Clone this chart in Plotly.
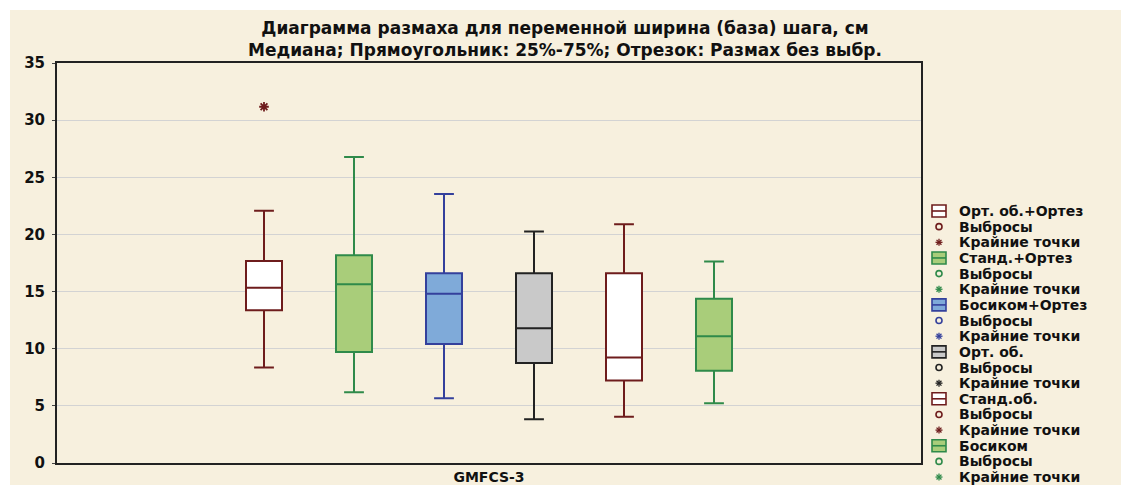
import plotly.graph_objects as go

# ---------------- data ----------------
series_names = ["Орт. об.+Ортез", "Станд.+Ортез", "Босиком+Ортез", "Орт. об.", "Станд.об.", "Босиком"]
lower_whisker = [8.36, 6.19, 5.66, 3.82, 4.05, 5.22]
q1_values = [13.37, 9.71, 10.41, 8.74, 7.21, 8.07]
median_values = [15.34, 15.63, 14.81, 11.79, 9.24, 11.08]
q3_values = [17.68, 18.18, 16.60, 16.60, 16.60, 14.37]
upper_whisker = [22.07, 26.77, 23.54, 20.26, 20.90, 17.63]
extreme_series = [0]          # index of series with the extreme point
extreme_values = [31.17]
category_label = "GMFCS-3"
y_ticks = [0, 5, 10, 15, 20, 25, 30, 35]
outlier_label = "Выбросы"
extreme_label = "Крайние точки"
title_lines = ["Диаграмма размаха для переменной ширина (база) шага, см",
               "Медиана; Прямоугольник: 25%-75%; Отрезок: Размах без выбр."]

# ---------------- styles ----------------
line_colors = ["#6e1c1c", "#2f8a4a", "#34409c", "#222222", "#6e1c1c", "#2f8a4a"]
fill_colors = ["#ffffff", "#a9cd7a", "#7faad9", "#c9c9c9", "#ffffff", "#a9cd7a"]
cream = "#f7f0de"
OFF = 8                      # page body margin in the browser
W, H = 1129 - OFF, 485 - OFF
FONT = "DejaVu Sans"

fig = go.Figure()
n = len(series_names)
positions = list(range(n))
for i in range(n):
    fig.add_trace(go.Box(
        x=[positions[i]], q1=[q1_values[i]], median=[median_values[i]], q3=[q3_values[i]],
        lowerfence=[lower_whisker[i]], upperfence=[upper_whisker[i]],
        width=0.4, whiskerwidth=0.55,
        line=dict(color=line_colors[i], width=2), fillcolor=fill_colors[i],
        name=series_names[i], showlegend=False, hoverinfo="y",
    ))

ext_col = line_colors[extreme_series[0]]
fig.add_trace(go.Scatter(
    x=[positions[s] for s in extreme_series], y=extreme_values, mode="markers",
    marker=dict(symbol="asterisk-open", size=8, color=ext_col,
                line=dict(color=ext_col, width=1.8)),
    showlegend=False, name=extreme_label,
))

def px(x):
    return (x - OFF) / W

def py(y):
    return 1 - (y - OFF) / H

shapes = []
annotations = []
# cream panel with thin white border top/left
shapes.append(dict(type="rect", xref="paper", yref="paper", x0=px(10), x1=1, y0=0, y1=py(10),
                   fillcolor=cream, line=dict(width=0), layer="below"))

# manual legend
ly0, lstep = 211.0, 15.65
icon_x, text_x = 939.0, 957.0
k = 0
for i in range(n):
    for kind in ("box", "out", "ext"):
        yc = ly0 + k * lstep
        col = line_colors[i]
        if kind == "box":
            shapes.append(dict(type="rect", xref="paper", yref="paper",
                               x0=px(icon_x - 7), x1=px(icon_x + 7), y0=py(yc + 6), y1=py(yc - 6),
                               fillcolor=fill_colors[i], line=dict(color=col, width=1.6)))
            shapes.append(dict(type="line", xref="paper", yref="paper",
                               x0=px(icon_x - 7), x1=px(icon_x + 7), y0=py(yc), y1=py(yc),
                               line=dict(color=col, width=1.6)))
            label = series_names[i]
        elif kind == "out":
            shapes.append(dict(type="circle", xref="paper", yref="paper",
                               x0=px(icon_x - 3), x1=px(icon_x + 3), y0=py(yc + 3), y1=py(yc - 3),
                               line=dict(color=col, width=1.6)))
            label = outlier_label
        else:
            r = 3.5
            for dx, dy in ((1, 0), (0, 1), (0.7, 0.7), (0.7, -0.7)):
                shapes.append(dict(type="line", xref="paper", yref="paper",
                                   x0=px(icon_x - r * dx), x1=px(icon_x + r * dx),
                                   y0=py(yc - r * dy), y1=py(yc + r * dy),
                                   line=dict(color=col, width=1.3)))
            label = extreme_label
        annotations.append(dict(text=label, xref="paper", yref="paper", x=px(text_x), y=py(yc),
                                xanchor="left", yanchor="middle", showarrow=False,
                                font=dict(family=FONT, size=14, color="#111111", weight="bold")))
        k += 1

fig.update_layout(
    width=W, height=H,
    margin=dict(l=0, r=0, t=0, b=0),
    paper_bgcolor="#ffffff", plot_bgcolor="#ffffff",
    title=dict(text="<br>".join(title_lines), x=px(565), xanchor="center", xref="paper",
               y=py(34), yref="container", yanchor="middle",
               font=dict(family=FONT, size=17, color="#111111", weight="bold")),
    xaxis=dict(domain=[px(57), px(921)], range=[-2.3, 7.3], tickvals=[2.5], ticktext=[category_label],
               automargin=False,
               showgrid=False, zeroline=False, showline=True, mirror=True, linecolor="#222222",
               linewidth=2, ticks="", ticklen=0,
               tickfont=dict(family=FONT, size=14, color="#111111", weight="bold")),
    yaxis=dict(domain=[py(463), py(63)], range=[0, 35], tickvals=y_ticks,
               automargin=False,
               showgrid=True, gridcolor="#d3d3d3", gridwidth=1, zeroline=False,
               showline=True, mirror=True, linecolor="#222222", linewidth=2,
               ticks="outside", ticklen=3, tickcolor="#444444", ticklabelstandoff=4,
               tickfont=dict(family=FONT, size=15, color="#111111", weight="bold")),
    shapes=shapes, annotations=annotations,
)

fig.write_html("out.html")
